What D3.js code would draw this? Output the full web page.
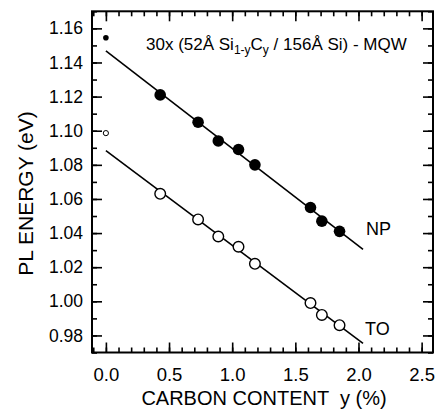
<!DOCTYPE html>
<html>
<head>
<meta charset="utf-8">
<script src="https://cdn.jsdelivr.net/npm/d3@7"></script>
<style>
body { margin: 0; background: #fff; }
svg { display: block; font-family: "Liberation Sans", Arial, sans-serif; }
</style>
</head>
<body>
<div id="chart"></div>
<script>
// carbon content y (%) for the big markers
var carbon = [0.43, 0.73, 0.89, 1.05, 1.18, 1.62, 1.71, 1.85];
var npEnergy = [1.121, 1.105, 1.094, 1.089, 1.080, 1.055, 1.047, 1.041];
var toEnergy = [1.063, 1.048, 1.038, 1.032, 1.022, 0.999, 0.992, 0.986];
// Si reference points at y = 0
var siCarbon = [0.0];
var siNP = [1.1545];
var siTO = [1.0986];
// fitted lines [x, E]
var npFit = [[0.0, 1.1468], [2.036, 1.0305]];
var toFit = [[0.0, 1.0883], [2.036, 0.9754]];
var xTicks = [0.0, 0.5, 1.0, 1.5, 2.0, 2.5];
var yTicks = [0.98, 1.00, 1.02, 1.04, 1.06, 1.08, 1.10, 1.12, 1.14, 1.16];

var W = 439, H = 418;
var L = 92, R = 433, T = 11.3, B = 352.5;

var svg = d3.select("#chart").append("svg")
  .attr("width", W).attr("height", H);

var x = d3.scaleLinear().domain([-0.11, 2.59]).range([L, R]);
var y = d3.scaleLinear().domain([0.97, 1.17]).range([B, T]);

var xMinor = d3.range(-1, 26).map(function(i) { return i / 10; });
var yMinor = d3.range(97, 118).map(function(i) { return i / 100; });

function axisGroup(axis, tx, ty) {
  var g = svg.append("g").attr("transform", "translate(" + tx + "," + ty + ")").call(axis);
  g.select(".domain").remove();
  g.selectAll("line").attr("stroke", "#000").attr("stroke-width", 1.6);
  return g;
}

// minor ticks, all four sides, inward
axisGroup(d3.axisBottom(x).tickValues(xMinor).tickSize(-5).tickFormat(""), 0, B);
axisGroup(d3.axisTop(x).tickValues(xMinor).tickSize(-5).tickFormat(""), 0, T);
axisGroup(d3.axisLeft(y).tickValues(yMinor).tickSize(-5).tickFormat(""), L, 0);
axisGroup(d3.axisRight(y).tickValues(yMinor).tickSize(-5).tickFormat(""), R, 0);

// major ticks
var xb = axisGroup(d3.axisBottom(x).tickValues(xTicks).tickSize(-10).tickPadding(15)
  .tickFormat(d3.format(".1f")), 0, B);
axisGroup(d3.axisTop(x).tickValues(xTicks).tickSize(-10).tickFormat(""), 0, T);
var yl = axisGroup(d3.axisLeft(y).tickValues(yTicks).tickSize(-10).tickPadding(9)
  .tickFormat(d3.format(".2f")), L, 0);
axisGroup(d3.axisRight(y).tickValues(yTicks).tickSize(-10).tickFormat(""), R, 0);

xb.selectAll("text").attr("font-size", 18.5).attr("fill", "#000")
  .attr("font-family", "'Liberation Sans', Arial, sans-serif");
yl.selectAll("text").attr("font-size", 17.5).attr("fill", "#000")
  .attr("font-family", "'Liberation Sans', Arial, sans-serif");

// frame
svg.append("rect")
  .attr("x", L).attr("y", T).attr("width", R - L).attr("height", B - T)
  .attr("fill", "none").attr("stroke", "#000").attr("stroke-width", 2);

// fit lines
var line = d3.line().x(function(d) { return x(d[0]); }).y(function(d) { return y(d[1]); });
[npFit, toFit].forEach(function(f) {
  svg.append("path").attr("d", line(f))
    .attr("fill", "none").attr("stroke", "#000").attr("stroke-width", 1.6);
});

// markers
svg.selectAll(".np").data(carbon).enter().append("circle")
  .attr("cx", function(d) { return x(d); })
  .attr("cy", function(d, i) { return y(npEnergy[i]); })
  .attr("r", 5.8).attr("fill", "#000");
svg.selectAll(".to").data(carbon).enter().append("circle")
  .attr("cx", function(d) { return x(d); })
  .attr("cy", function(d, i) { return y(toEnergy[i]); })
  .attr("r", 5.3).attr("fill", "#fff").attr("stroke", "#000").attr("stroke-width", 1.4);
svg.selectAll(".sinp").data(siCarbon).enter().append("circle")
  .attr("cx", function(d) { return x(d); })
  .attr("cy", function(d, i) { return y(siNP[i]); })
  .attr("r", 2.8).attr("fill", "#000");
svg.selectAll(".sito").data(siCarbon).enter().append("circle")
  .attr("cx", function(d) { return x(d); })
  .attr("cy", function(d, i) { return y(siTO[i]); })
  .attr("r", 2.6).attr("fill", "#fff").attr("stroke", "#000").attr("stroke-width", 1);

// labels
svg.append("text").attr("x", 366).attr("y", 235).attr("font-size", 18).text("NP");
svg.append("text").attr("x", 365).attr("y", 335).attr("font-size", 18).text("TO");

var ann = svg.append("text").attr("x", 146).attr("y", 50).attr("font-size", 17);
ann.append("tspan").text("30x (52\u00C5 Si");
ann.append("tspan").attr("font-size", 12).attr("dy", 4).text("1-y");
ann.append("tspan").attr("dy", -4).text("C");
ann.append("tspan").attr("font-size", 12).attr("dy", 4).text("y");
ann.append("tspan").attr("dy", -4).text(" / 156\u00C5 Si) - MQW");

svg.append("text").attr("x", 264).attr("y", 404.5).attr("text-anchor", "middle")
  .attr("font-size", 20).attr("xml:space", "preserve")
  .text("CARBON CONTENT  y (%)");
svg.append("text").attr("transform", "translate(33,193.5) rotate(-90)")
  .attr("text-anchor", "middle").attr("font-size", 21)
  .text("PL ENERGY (eV)");
</script>
</body>
</html>
